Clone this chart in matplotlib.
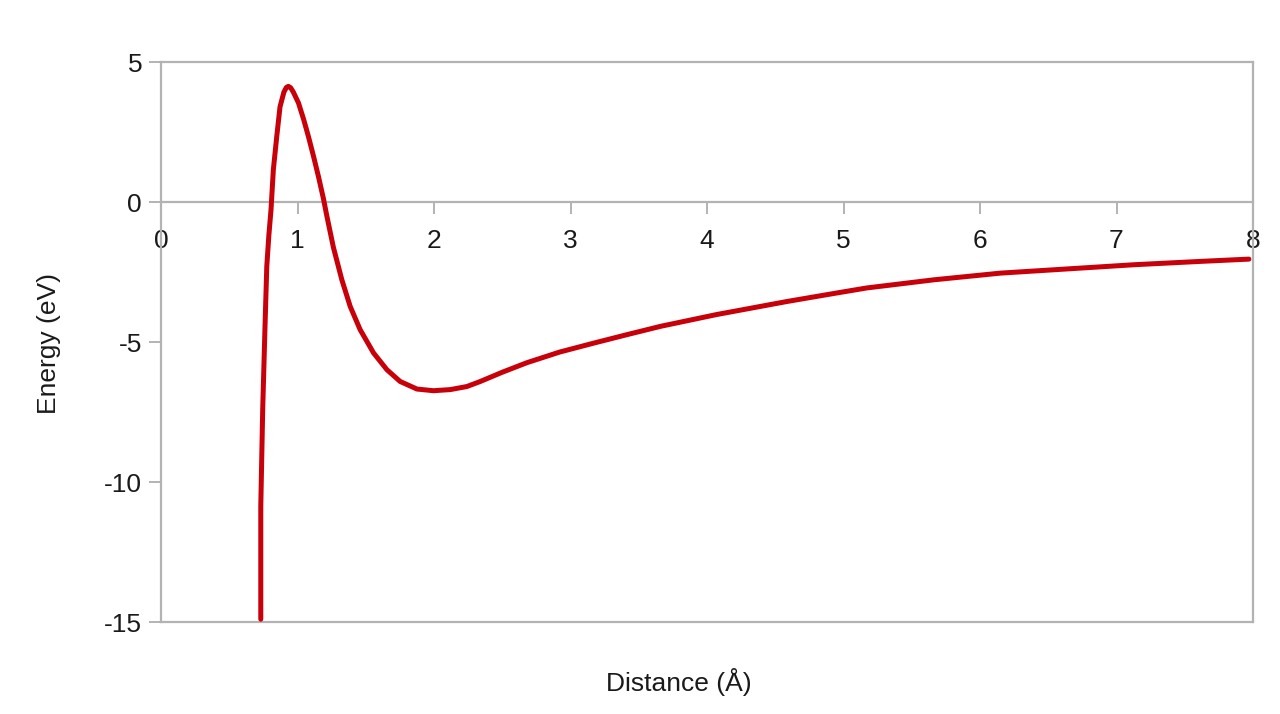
import matplotlib
matplotlib.use("Agg")
import matplotlib.pyplot as plt

# Data
distance = [0.731, 0.731, 0.745, 0.762, 0.775, 0.790, 0.806, 0.823, 0.848, 0.872, 0.900,
            0.918, 0.933, 0.950, 0.970, 1.007, 1.045, 1.080, 1.118, 1.153, 1.190, 1.215, 1.263,
            1.325, 1.386, 1.459, 1.557, 1.655, 1.752, 1.875, 1.996, 2.119, 2.241,
            2.339, 2.50, 2.68, 2.92, 3.17, 3.42, 3.66, 4.07, 4.59, 4.95, 5.17,
            5.66, 6.15, 6.64, 7.13, 7.62, 7.97]
energy = [-14.9, -10.87, -7.42, -4.44, -2.3, -1.2, -0.27, 1.15, 2.34, 3.4, 3.92,
          4.09, 4.13, 4.08, 3.92, 3.54, 2.95, 2.34, 1.62, 0.92, 0.12, -0.5, -1.62,
          -2.78, -3.73, -4.56, -5.39, -5.99, -6.41, -6.68, -6.74, -6.70, -6.59,
          -6.41, -6.08, -5.74, -5.36, -5.04, -4.73, -4.44, -4.02, -3.55, -3.25, -3.07,
          -2.78, -2.54, -2.39, -2.24, -2.12, -2.04]

x_ticks = [0, 1, 2, 3, 4, 5, 6, 7, 8]
y_ticks = [-15, -10, -5, 0, 5]
x_label = "Distance (Å)"
y_label = "Energy (eV)"

plt.rcParams['font.family'] = ['Liberation Sans', 'DejaVu Sans']
GRAY = '#b3b3b3'
TXT = '#1a1a1a'
FS = 19

fig = plt.figure(figsize=(12.8, 7.14), dpi=100)
ax = fig.add_axes([161/1280, 1-622/714, (1253-161)/1280, (622-62)/714])

ax.plot(distance, energy, color='#c8000a', lw=3.6, solid_joinstyle='round',
        solid_capstyle='round', zorder=5, clip_on=False)

ax.set_xlim(0, 8)
ax.set_ylim(-15, 5)

for s in ['top', 'right', 'left', 'bottom']:
    ax.spines[s].set_color(GRAY)
    ax.spines[s].set_linewidth(1.6)
ax.spines['bottom'].set_position(('data', 0))
ax.axhline(-15, color=GRAY, lw=1.6, clip_on=False, zorder=1)

ax.set_xticks(x_ticks)
ax.set_yticks(y_ticks)
ax.set_xticklabels([str(v) for v in x_ticks])
ax.set_yticklabels([str(v) for v in y_ticks])
ax.tick_params(axis='x', direction='out', length=8.6, width=1.4, color=GRAY,
               labelsize=FS, labelcolor=TXT, pad=11)
ax.tick_params(axis='y', direction='out', length=8.6, width=1.4, color=GRAY,
               labelsize=FS, labelcolor=TXT, pad=5)

fig.text(679/1280, 1-682/714, x_label, ha='center', va='center', fontsize=FS, color=TXT)
fig.text(49/1280, 1-343/714, y_label, ha='center', va='center', rotation=90,
         fontsize=FS, color=TXT)

fig.savefig('out.png', dpi=100, facecolor='white')
